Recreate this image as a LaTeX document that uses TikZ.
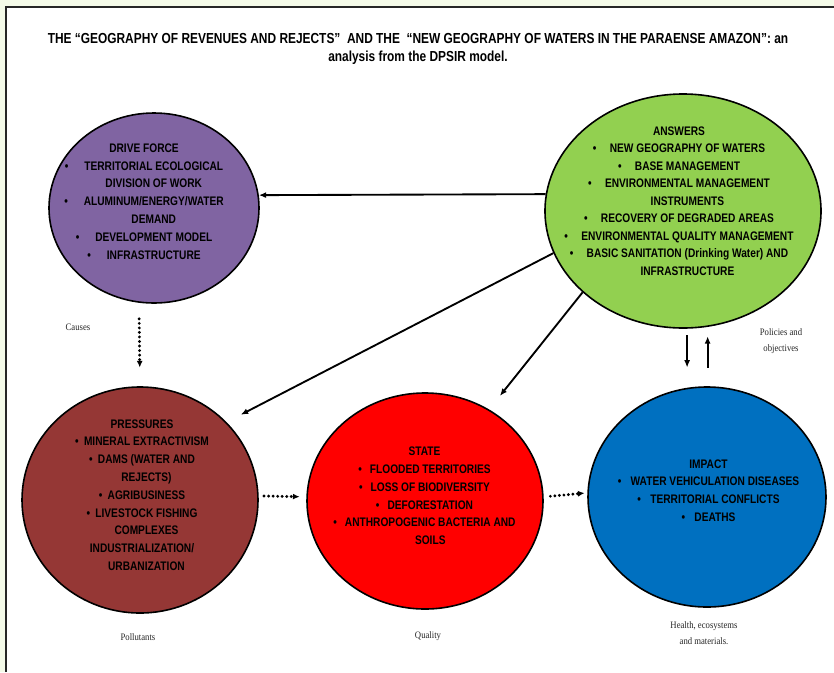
\documentclass[tikz,border=0pt]{standalone}
\usepackage{fontspec}
\setmainfont{Liberation Sans}
\newfontfamily\dpsans[FakeStretch=0.82]{Liberation Sans}
\newfontfamily\dpserif[FakeStretch=0.88]{Liberation Serif}
\usetikzlibrary{shapes.geometric,arrows.meta}
\definecolor{dppurple}{RGB}{128,100,162}
\definecolor{dpgreen}{RGB}{146,208,80}
\definecolor{dpbrown}{RGB}{149,55,53}
\definecolor{dpred}{RGB}{255,0,0}
\definecolor{dpblue}{RGB}{0,112,192}
\definecolor{dpbg}{RGB}{244,250,232}
\newcommand{\dpbul}[1]{\textbullet\hspace{#1}}
\newcommand{\dpind}[1]{\hphantom{\textbullet\hspace{#1}}}
\begin{document}
\begin{tikzpicture}[x=0.75pt,y=-0.75pt,
  blob/.style={ellipse, draw=black, line width=1.2pt, inner sep=0pt},
  body/.style={align=center, inner sep=0pt, text=black,
    font=\dpsans\bfseries\fontsize{9.3}{13.35}\selectfont},
  lab/.style={align=center, inner sep=0pt, text=black!85,
    font=\dpserif\fontsize{7.4}{11.5}\selectfont},
  arr/.style={-{Latex[length=5.5pt,width=4.5pt]}, line width=1.4pt},
  dotarr/.style={-{Latex[length=5pt,width=4.5pt]}, line width=2.4pt,
    line cap=round, dash pattern=on 0pt off 3.4pt}]
\useasboundingbox (0,0) rectangle (834,672);
% frame
\fill[dpbg] (0,0) rectangle (834,672);
\fill[white] (6,7) rectangle (834,672);
\draw[line width=1.1pt, black!85] (6,672) -- (6,7) -- (834,7);

% title
\node[align=center, inner sep=0pt, font=\dpsans\bfseries\fontsize{10.9}{13.5}\selectfont]
  (title) at (418,49) {THE “GEOGRAPHY OF REVENUES AND REJECTS”\ \ AND THE\ \ “NEW GEOGRAPHY OF WATERS IN THE PARAENSE AMAZON”: an\\
  analysis from the DPSIR model.};

% ellipses
\node[blob, fill=dppurple, minimum width=157.5pt, minimum height=142.5pt] (drv) at (154,208) {};
\node[blob, fill=dpgreen, minimum width=207pt, minimum height=175.5pt] (ans) at (683,211) {};
\node[blob, fill=dpbrown, minimum width=177pt, minimum height=169.5pt] (prs) at (140,500) {};
\node[blob, fill=dpred, minimum width=177pt, minimum height=162pt] (sta) at (425,501) {};
\node[blob, fill=dpblue, minimum width=178.5pt, minimum height=165pt] (imp) at (707,497) {};

% texts
\node[body] (drvtext) at (144,201.5) {DRIVE FORCE\\
  \dpbul{12pt}TERRITORIAL ECOLOGICAL\\
  \dpind{12pt}DIVISION OF WORK\\
  \dpbul{12pt}ALUMINUM/ENERGY/WATER\\
  \dpind{12pt}DEMAND\\
  \dpbul{12pt}DEVELOPMENT MODEL\\
  \dpbul{12pt}INFRASTRUCTURE};
\node[body, font=\dpsans\bfseries\fontsize{9.3}{13.1}\selectfont] (anstext) at (679,201) {ANSWERS\\
  \dpbul{10pt}NEW GEOGRAPHY OF WATERS\\
  \dpbul{10pt}BASE MANAGEMENT\\
  \dpbul{10pt}ENVIRONMENTAL MANAGEMENT\\
  \dpind{10pt}INSTRUMENTS\\
  \dpbul{10pt}RECOVERY OF DEGRADED AREAS\\
  \dpbul{10pt}ENVIRONMENTAL QUALITY MANAGEMENT\\
  \dpbul{10pt}BASIC SANITATION (Drinking Water) AND\\
  \dpind{10pt}INFRASTRUCTURE};
\node[body] (prstext) at (142,495) {PRESSURES\\
  \dpbul{4pt}MINERAL EXTRACTIVISM\\
  \dpbul{4pt}DAMS (WATER AND\\
  \dpind{4pt}REJECTS)\\
  \dpbul{4pt}AGRIBUSINESS\\
  \dpbul{4pt}LIVESTOCK FISHING\\
  \dpind{4pt}COMPLEXES\\
  INDUSTRIALIZATION/\\
  \dpind{4pt}URBANIZATION};
\node[body] (statext) at (424.5,496) {STATE\\
  \dpbul{6pt}FLOODED TERRITORIES\\
  \dpbul{6pt}LOSS OF BIODIVERSITY\\
  \dpbul{6pt}DEFORESTATION\\
  \dpbul{6pt}ANTHROPOGENIC BACTERIA AND\\
  \dpind{6pt}SOILS};
\node[body] (imptext) at (708.5,490.5) {IMPACT\\
  \dpbul{7pt}WATER VEHICULATION DISEASES\\
  \dpbul{7pt}TERRITORIAL CONFLICTS\\
  \dpbul{7pt}DEATHS};

% labels
\node[lab] (causes) at (78,327) {Causes};
\node[lab] (pollut) at (138,637) {Pollutants};
\node[lab] (quality) at (428,636) {Quality};
\node[lab] (policies) at (781,341) {Policies and\\objectives};
\node[lab] (health) at (704,633) {Health, ecosystems\\and materials.};

% connectors
\draw[arr] (ans.173) -- (drv.7);
\draw[arr, shorten >=12pt] (ans.198) -- (prs.42);
\draw[arr, shorten >=13pt] (ans.219) -- (sta.55);
\draw[arr, shorten <=5pt, shorten >=14pt] (ans.272) -- (ans.272 |- imp.north);
\draw[arr, shorten <=14pt, shorten >=7pt] (ans.282 |- imp.north) -- (ans.282);
\draw[dotarr, shorten <=12pt, shorten >=14pt] (drv.261.5) -- (prs.90);
\draw[dotarr, shorten <=4pt, shorten >=5pt] (prs.2) -- (sta.178);
\draw[dotarr, shorten <=5pt, shorten >=2pt] (sta.2) -- (imp.178);
\end{tikzpicture}
\end{document}
